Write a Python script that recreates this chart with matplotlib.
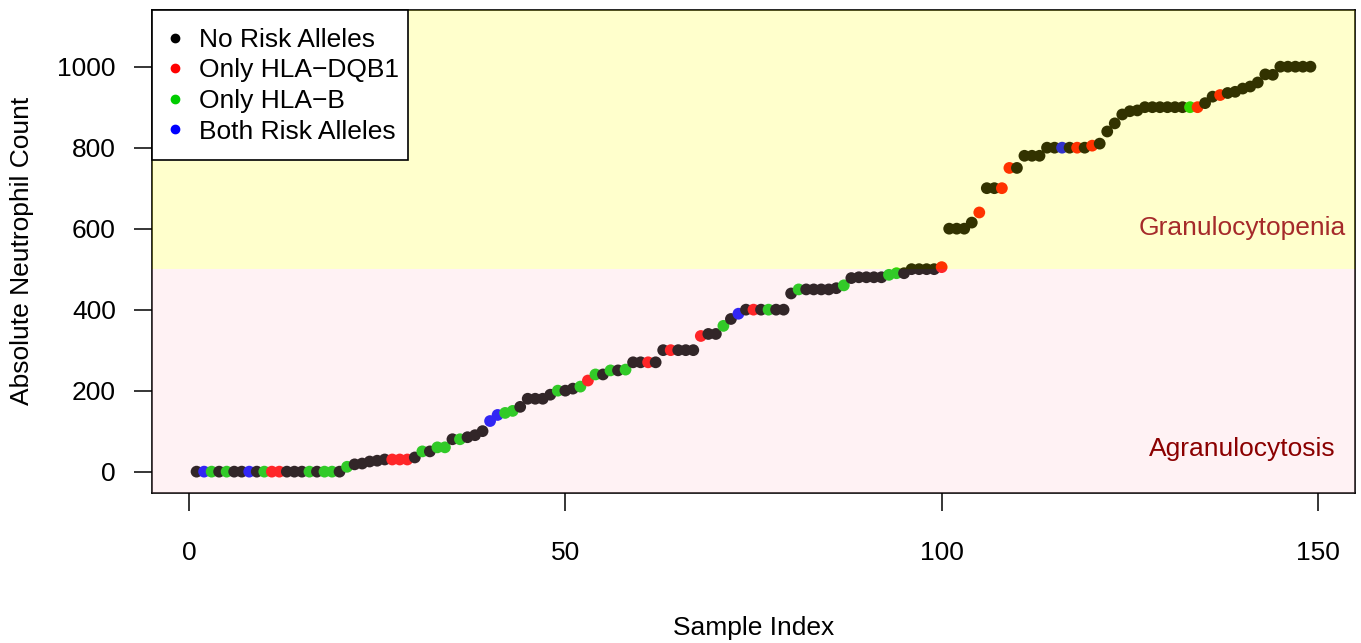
import numpy as np
import matplotlib
matplotlib.use("Agg")
import matplotlib.pyplot as plt
from matplotlib.lines import Line2D
from matplotlib.patches import Rectangle

plt.rcParams['font.family'] = ['Liberation Sans', 'DejaVu Sans']

# anc values, sorted, one per sample
anc = [0, 0, 0, 0, 0, 0, 0, 0, 0, 0,
       0, 0, 0, 0, 0, 0, 0, 0, 0, 0,
       12, 18, 20, 25, 27, 30, 30, 30, 30, 35,
       50, 50, 60, 60, 80, 80, 85, 90, 100, 125,
       140, 145, 150, 160, 180, 180, 180, 190, 200, 200,
       205, 210, 225, 240, 240, 250, 250, 252, 270, 270,
       270, 270, 300, 300, 300, 300, 300, 335, 340, 340,
       360, 377, 390, 400, 400, 400, 400, 400, 400, 440,
       450, 450, 450, 450, 450, 453, 460, 478, 480, 480,
       480, 480, 486, 490, 490, 500, 500, 500, 500, 505,
       600, 600, 600, 615, 640, 700, 700, 700, 750, 750,
       780, 780, 780, 800, 800, 800, 800, 800, 800, 805,
       810, 840, 860, 882, 890, 892, 900, 900, 900, 900,
       900, 900, 900, 900, 910, 926, 930, 935, 938, 946,
       951, 961, 981, 980, 1000, 1000, 1000, 1000, 1000]

# 0 = no risk alleles, 1 = only HLA-DQB1, 2 = only HLA-B, 3 = both
group = [0, 3, 2, 0, 2, 0, 0, 3, 0, 2,
         1, 1, 0, 0, 0, 2, 0, 2, 2, 0,
         2, 0, 0, 0, 0, 0, 1, 1, 1, 0,
         2, 0, 2, 2, 0, 2, 0, 0, 0, 3,
         3, 2, 2, 0, 0, 0, 0, 0, 2, 0,
         0, 2, 1, 2, 0, 2, 0, 2, 0, 0,
         1, 0, 0, 1, 0, 0, 0, 1, 0, 0,
         2, 0, 3, 0, 1, 0, 2, 0, 0, 0,
         2, 0, 0, 0, 0, 0, 2, 0, 0, 0,
         0, 0, 2, 2, 0, 0, 0, 0, 0, 1,
         0, 0, 0, 0, 1, 0, 0, 1, 1, 0,
         0, 0, 0, 0, 0, 3, 0, 1, 0, 1,
         0, 0, 0, 0, 0, 0, 0, 0, 0, 0,
         0, 0, 2, 1, 0, 0, 1, 0, 0, 0,
         0, 0, 0, 0, 0, 0, 0, 0, 0]

group_names = ["No Risk Alleles", "Only HLA\u2212DQB1", "Only HLA\u2212B", "Both Risk Alleles"]
group_cols = ["black", "#FF0000", "#00CD00", "#0000FF"]

x_ticks = [0, 50, 100, 150]
y_ticks = [0, 200, 400, 600, 800, 1000]

idx = np.arange(1, len(anc) + 1)
cols = [group_cols[g] for g in group]

FS = 19

W, H = 1361, 643
ax_l, ax_r, ax_t, ax_b = 152, 1355, 10, 492.7
fig = plt.figure(figsize=(W / 100, H / 100), dpi=100)
ax = fig.add_axes([ax_l / W, (H - ax_b) / H, (ax_r - ax_l) / W, (ax_b - ax_t) / H])
aw, ah = ax_r - ax_l, ax_b - ax_t

ax.scatter(idx, anc, c=cols, s=72, linewidths=0, zorder=2)

ylo, yhi = -52, 1140
ax.set_xlim(-4.92, 154.92)
ax.set_ylim(ylo, yhi)

# shaded zones drawn over the points, like the original
ax.axhspan(500, yhi, color="yellow", alpha=0.2, lw=0, zorder=3)
ax.axhspan(ylo, 500, color="pink", alpha=0.2, lw=0, zorder=3)

ax.text(140, 602, "Granulocytopenia", color="#A52A2A", fontsize=FS,
        ha="center", va="center", zorder=4)
ax.text(140, 55, "Agranulocytosis", color="#8B0000", fontsize=FS,
        ha="center", va="center", zorder=4)

ax.set_xticks(x_ticks)
ax.set_yticks(y_ticks)
ax.tick_params(direction="out", length=13, width=1.1, labelsize=FS, colors="black")
ax.tick_params(axis="x", pad=22)
ax.tick_params(axis="y", pad=13)
for s in ax.spines.values():
    s.set_linewidth(1.2)

ax.set_xlabel("Sample Index", fontsize=FS)
ax.xaxis.set_label_coords(0.5, -(628 - ax_b) / ah)
ax.xaxis.label.set_va("center")
ax.set_ylabel("Absolute Neutrophil Count", fontsize=FS)
ax.yaxis.set_label_coords((22 - ax_l) / aw, 0.5)
ax.yaxis.label.set_va("center")

# legend box like R's: white, square, black edge
box = Rectangle((0, (ax_b - 160) / ah), (408 - ax_l) / aw, (160 - ax_t) / ah,
                transform=ax.transAxes, facecolor="white", edgecolor="black",
                lw=1.2, zorder=5, clip_on=False)
ax.add_patch(box)

handles = [Line2D([], [], marker="o", ls="none", color=c, markersize=6)
           for c in group_cols]
leg = ax.legend(handles, group_names, loc="upper left",
                bbox_to_anchor=(0, 1 - 6 / ah),
                borderaxespad=0, fontsize=FS, frameon=False,
                handletextpad=0.49, handlelength=0.84, labelspacing=0.25,
                borderpad=0.45)
leg.set_zorder(6)

fig.savefig("out.png", dpi=100)
